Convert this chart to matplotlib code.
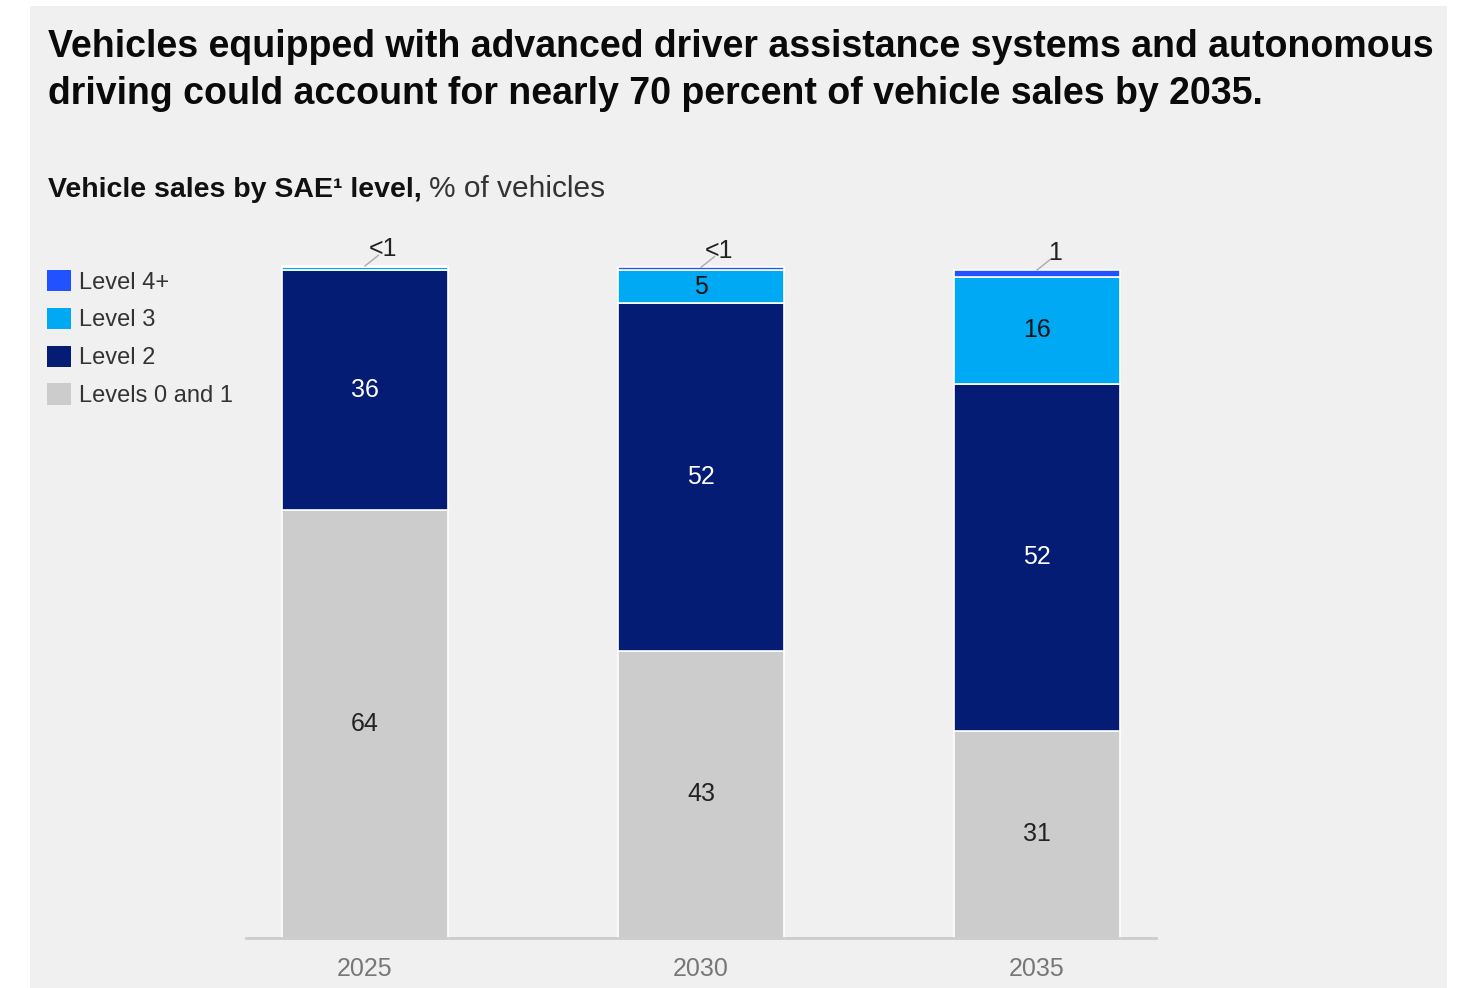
"""
Vehicle sales by SAE level - stacked bars
"""

import matplotlib.pyplot as plt
from matplotlib.patches import Patch, Rectangle

plt.rcParams['font.family'] = ['Liberation Sans', 'DejaVu Sans']

years = ['2025', '2030', '2035']
levels_0_1 = [64, 43, 31]
level_2 = [36, 52, 52]
level_3 = [0.4, 5, 16]
level_4 = [0.2, 0.4, 1]
small_labels = ['<1', '<1', '1']   # labels for the thin top segments

series = [
    ('Levels 0 and 1', levels_0_1, '#cccccc', '#222222'),
    ('Level 2', level_2, '#051c75', 'white'),
    ('Level 3', level_3, '#00a9f4', '#111111'),
    ('Level 4+', level_4, '#2251ff', 'white'),
]

W, H = 1475, 988
fig = plt.figure(figsize=(W / 100, H / 100), dpi=100, facecolor='white')

# grey panel
fig.patches.append(Rectangle((30 / W, 0), (1447 - 30) / W, (988 - 6) / H,
                             transform=fig.transFigure, facecolor='#f0f0f0',
                             edgecolor='none', zorder=-10))

fig.text(48 / W, 1 - 29 / H,
         'Vehicles equipped with advanced driver assistance systems and autonomous\n'
         'driving could account for nearly 70 percent of vehicle sales by 2035.',
         fontsize=27, fontweight='bold', va='top', ha='left',
         linespacing=1.4, color='#0a0a0a')

t = fig.text(48 / W, 1 - 197 / H, 'Vehicle sales by SAE¹ level,',
             fontsize=20.5, fontweight='bold', va='baseline', ha='left', color='#111111')
fig.canvas.draw()
bb = t.get_window_extent()
fig.text(bb.x1 / W + 7 / W, 1 - 197 / H, '% of vehicles', fontsize=21.5,
         va='baseline', ha='left', color='#333333')

# axes: baseline at y=938 px, 100% at y=270 px
ax_top = 230
ax = fig.add_axes([246 / W, 1 - 938 / H, 910 / W, (938 - ax_top) / H])
ax.set_facecolor('none')
ax.set_xlim(-0.354, 2.354)
ax.set_ylim(0, (938 - ax_top) / 668 * 100)

x = range(len(years))
bottoms = [0, 0, 0]
for name, vals, color, txtcol in series:
    ax.bar(x, vals, width=0.494, bottom=bottoms, color=color,
           edgecolor='white', linewidth=1.2)
    for i, v in enumerate(vals):
        if v >= 5:
            ax.text(i, bottoms[i] + v / 2, f'{v:g}', ha='center', va='center',
                    fontsize=18, color=txtcol)
    bottoms = [b + v for b, v in zip(bottoms, vals)]

# leader labels for the thin top segments
for i, lab in enumerate(small_labels):
    ax.plot([i, i + 0.04], [bottoms[i], bottoms[i] + 1.6], color='#aaaaaa',
            lw=1, clip_on=False)
    ax.text(i + 0.055, bottoms[i] + 2.5, lab, ha='center', va='center',
            fontsize=18, color='#222222')

for s in ['top', 'right', 'left']:
    ax.spines[s].set_visible(False)
ax.spines['bottom'].set_color('#cccccc')
ax.spines['bottom'].set_linewidth(2)
ax.set_yticks([])
ax.set_xticks(list(x))
ax.set_xticklabels(years, fontsize=18, color='#777777')
ax.tick_params(axis='x', length=0, pad=14)

handles = [Patch(facecolor=c, edgecolor='none', label=n) for n, _, c, _ in series[::-1]]
fig.legend(handles=handles, loc='upper left', bbox_to_anchor=(47 / W, 1 - 270 / H),
           frameon=False, fontsize=17, handlelength=1.0, handleheight=1.0,
           handletextpad=0.35, labelspacing=0.6, borderpad=0, borderaxespad=0,
           labelcolor='#333333')

plt.savefig('out.png', dpi=100, facecolor='white')
